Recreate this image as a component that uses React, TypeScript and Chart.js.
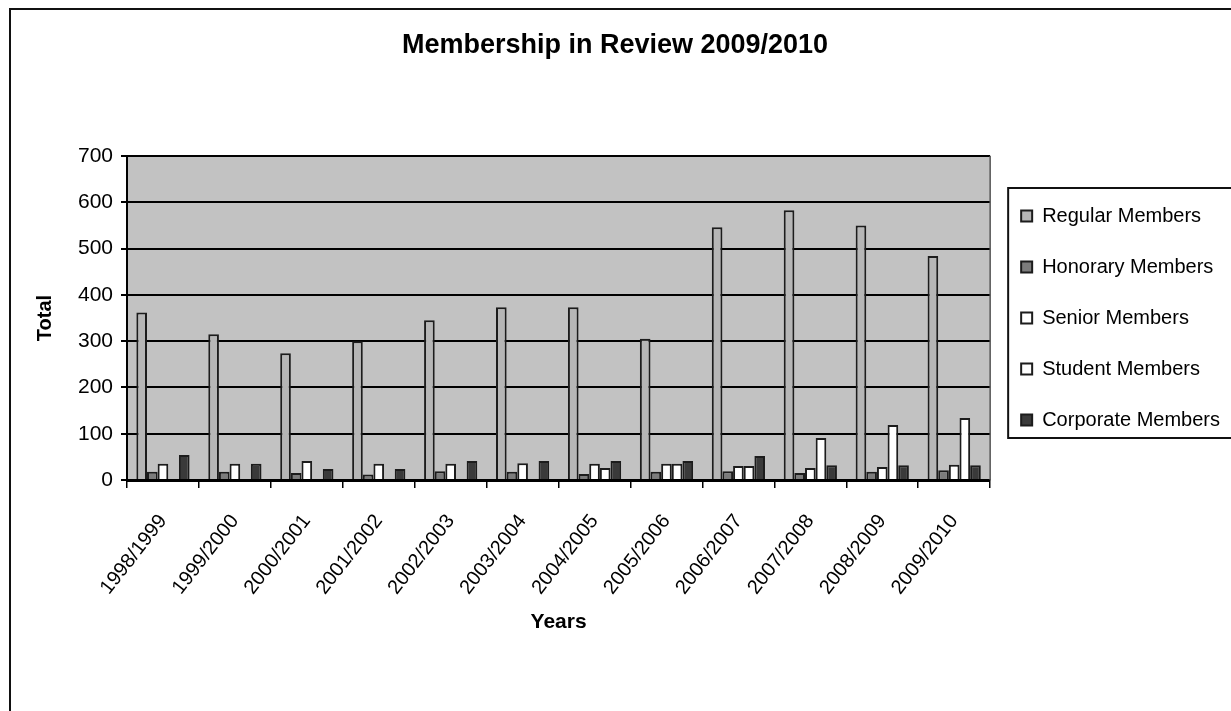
import { useEffect, useRef } from 'react';
import { Chart, registerables } from 'chart.js';

Chart.register(...registerables);

const categories = [
  '1998/1999', '1999/2000', '2000/2001', '2001/2002', '2002/2003', '2003/2004',
  '2004/2005', '2005/2006', '2006/2007', '2007/2008', '2008/2009', '2009/2010',
];
const regularMembers = [362, 315, 274, 300, 345, 373, 373, 305, 546, 583, 550, 484];
const honoraryMembers = [18, 18, 15, 12, 19, 18, 13, 18, 19, 15, 18, 21];
const seniorMembers = [35, 35, 41, 35, 35, 36, 35, 35, 30, 26, 28, 33];
const studentMembers = [0, 0, 0, 0, 0, 0, 26, 35, 30, 91, 119, 134];
const corporateMembers = [54, 35, 24, 24, 41, 41, 41, 41, 52, 32, 32, 32];
const yMin = 0;
const yMax = 700;
const yStep = 100;

const SANS = "'Liberation Sans', Arial, Helvetica, sans-serif";

export default function App() {
  const ref = useRef<HTMLCanvasElement>(null);

  useEffect(() => {
    document.body.style.margin = '0';
    const canvas = ref.current;
    if (!canvas) return;

    const framePlugin = {
      id: 'frame',
      beforeDraw(chart: any) {
        const { ctx, width, height, chartArea } = chart;
        ctx.save();
        ctx.fillStyle = '#ffffff';
        ctx.fillRect(0, 0, width, height);
        ctx.fillStyle = '#c2c2c2';
        ctx.fillRect(chartArea.left, chartArea.top, chartArea.right - chartArea.left, chartArea.bottom - chartArea.top);
        ctx.strokeStyle = '#111';
        ctx.lineWidth = 2;
        ctx.beginPath();
        ctx.moveTo(10, height + 2);
        ctx.lineTo(10, 9);
        ctx.lineTo(width + 2, 9);
        ctx.stroke();
        ctx.restore();
      },
      afterDraw(chart: any) {
        const { ctx, width, chartArea } = chart;
        const boxes = chart.legend?.legendHitBoxes;
        ctx.save();
        ctx.strokeStyle = '#555';
        ctx.lineWidth = 1.5;
        ctx.beginPath();
        ctx.moveTo(chartArea.right, chartArea.top);
        ctx.lineTo(chartArea.right, chartArea.bottom);
        ctx.stroke();
        if (boxes && boxes.length) {
          const first = boxes[0];
          const last = boxes[boxes.length - 1];
          const left = first.left - 13;
          const top = first.top - 18;
          const bottom = last.top + last.height + 8;
          ctx.strokeStyle = '#111';
          ctx.lineWidth = 2;
          ctx.strokeRect(left, top, width - left + 4, bottom - top);
        }
        ctx.restore();
      },
    };

    const common = { borderColor: '#1c1c1c', borderWidth: 2, categoryPercentage: 0.74, barPercentage: 1.0 };

    const chart = new Chart(canvas, {
      type: 'bar',
      data: {
        labels: categories,
        datasets: [
          { label: 'Regular Members', data: regularMembers, backgroundColor: '#b6b6b6', ...common },
          { label: 'Honorary Members', data: honoraryMembers, backgroundColor: '#7c7c7c', ...common },
          { label: 'Senior Members', data: seniorMembers, backgroundColor: '#ffffff', ...common },
          { label: 'Student Members', data: studentMembers, backgroundColor: '#ffffff', ...common },
          { label: 'Corporate Members', data: corporateMembers, backgroundColor: '#3a3a3a', ...common },
        ],
      },
      options: {
        responsive: false,
        animation: false,
        devicePixelRatio: 1,
        layout: { padding: { left: 0, right: 1, top: 0, bottom: 0 } },
        plugins: {
          title: {
            display: true,
            text: 'Membership in Review 2009/2010',
            color: '#000',
            font: { family: SANS, size: 27, weight: 'bold' },
            padding: { top: 29, bottom: 94.6 },
          },
          legend: {
            position: 'right',
            fullSize: false,
            labels: {
              boxWidth: 11,
              boxHeight: 11,
              padding: 31,
              color: '#000',
              font: { family: SANS, size: 20 },
            },
          },
          tooltip: { enabled: false },
        },
        scales: {
          x: {
            type: 'category',
            offset: true,
            afterFit(scale: any) {
              scale.height = 711 - 480;
            },
            grid: { display: true, drawOnChartArea: false, drawTicks: true, tickLength: 8, color: '#000', lineWidth: 1.5, offset: true },
            border: { display: true, color: '#000', width: 3 },
            ticks: {
              minRotation: 52,
              maxRotation: 52,
              padding: 22,
              color: '#000',
              font: { family: SANS, size: 20 },
            },
            title: {
              display: true,
              text: 'Years',
              color: '#000',
              font: { family: SANS, size: 21, weight: 'bold' },
              padding: { top: 0, bottom: 76 },
            },
          },
          y: {
            min: yMin,
            max: yMax,
            afterFit(scale: any) {
              scale.width = 127;
            },
            ticks: { stepSize: yStep, color: '#000', padding: 8, font: { family: SANS, size: 21 } },
            grid: { color: '#000', lineWidth: 2, tickLength: 6 },
            border: { display: true, color: '#000', width: 2 },
            title: {
              display: true,
              text: 'Total',
              color: '#000',
              font: { family: SANS, size: 20, weight: 'bold' },
              padding: { top: 33, bottom: 0 },
            },
          },
        },
      },
      plugins: [framePlugin],
    });

    return () => chart.destroy();
  }, []);

  return (
    <div style={{ position: 'absolute', left: 0, top: 0, width: 1231, height: 711 }}>
      <canvas ref={ref} width={1231} height={711} style={{ width: 1231, height: 711, display: 'block' }} />
    </div>
  );
}
